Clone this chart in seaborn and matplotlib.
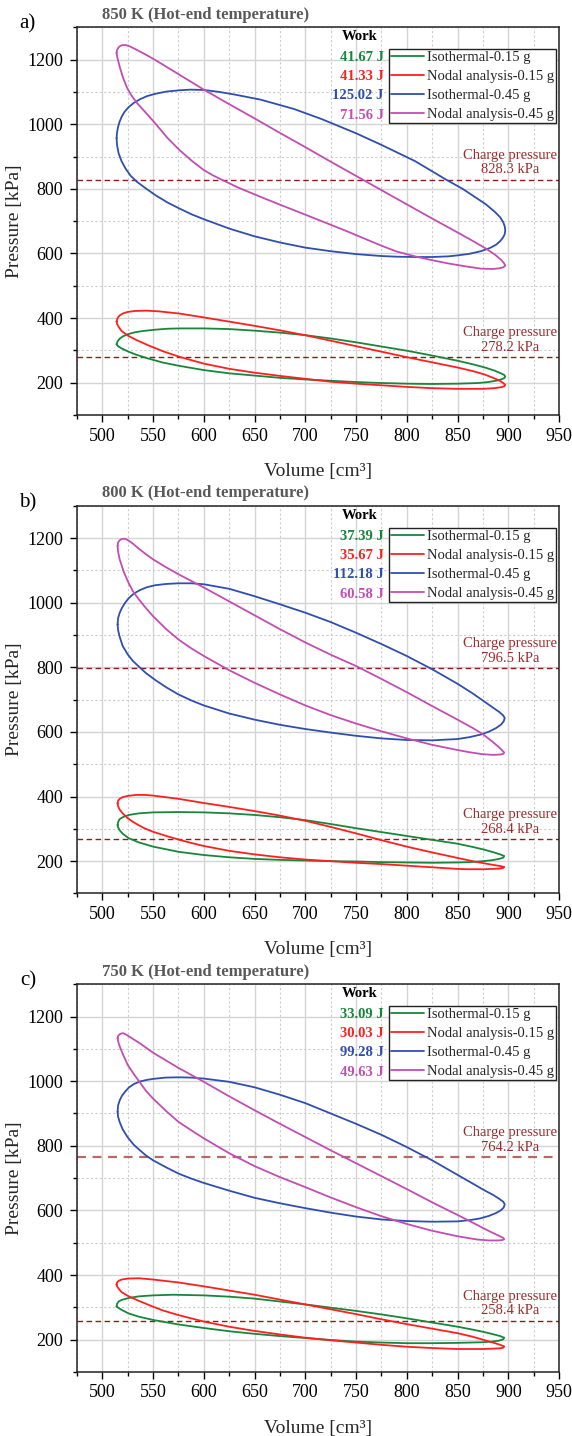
import matplotlib
matplotlib.use("Agg")
import matplotlib.pyplot as plt
from matplotlib.ticker import MultipleLocator
import pandas as pd
import seaborn as sns

# ---------------------------------------------------------------- data
SERIES = ["Isothermal-0.15 g", "Nodal analysis-0.15 g",
          "Isothermal-0.45 g", "Nodal analysis-0.45 g"]
COLORS = ["#17873a", "#ff1f1f", "#2f4fae", "#c24db3"]

PANEL_TAGS = ["a)", "b)", "c)"]
HOT_END_K = [850, 800, 750]
WORK_J = [[41.67, 41.33, 125.02, 71.56],
          [37.39, 35.67, 112.18, 60.58],
          [33.09, 30.03, 99.28, 49.63]]
CHARGE_KPA = [[828.3, 278.2], [796.5, 268.4], [764.2, 258.4]]

# P-V loops: (volume cm3, pressure kPa), traced once around each cycle
A_ISO_015 = [(514, 319), (515, 328), (517, 336), (520, 343), (525, 350), (532, 356),
             (540, 360), (552, 364), (564, 367), (576, 368), (600, 368), (625, 366),
             (650, 361), (675, 355), (700, 347), (725, 337), (750, 325), (775, 312),
             (800, 299), (825, 284), (850, 268), (865, 257), (877, 247), (886, 238),
             (892, 230), (896, 224), (897, 219), (896, 214), (893, 210), (888, 206),
             (880, 202), (870, 199), (850, 197), (825, 196), (800, 197), (775, 199),
             (750, 202), (725, 206), (700, 210), (675, 215), (650, 222), (625, 229),
             (600, 239), (576, 252), (560, 262), (545, 275), (533, 287), (525, 297),
             (519, 306), (515.5, 313), (514, 319)]
A_NOD_015 = [(514, 389), (515, 400), (517, 408), (520, 414), (525, 419), (532, 422),
             (543, 423), (555, 421), (576, 414), (600, 402), (625, 389), (650, 376),
             (675, 362), (700, 347), (725, 330), (750, 313), (775, 296), (800, 279),
             (825, 263), (850, 247), (865, 236), (877, 225), (886, 214), (892, 205),
             (895, 199), (897, 193), (896, 189), (893, 186), (886, 183), (875, 181),
             (850, 181), (825, 183), (800, 187), (775, 192), (750, 197), (725, 203),
             (700, 212), (675, 221), (650, 231), (625, 243), (600, 259), (576, 280),
             (560, 297), (545, 316), (533, 333), (525, 346), (519, 360), (516, 373),
             (514.5, 382), (514, 389)]
A_ISO_045 = [(514, 957), (514.5, 975), (515.5, 992), (517, 1008), (519, 1023), (522, 1039),
             (526, 1053), (531, 1066), (537, 1077), (544, 1087), (552, 1094), (563, 1101),
             (576, 1105), (587, 1107), (600, 1106), (615, 1100), (630, 1092), (656, 1076),
             (689, 1047), (716, 1016), (750, 972), (775, 936), (808, 886), (839, 828),
             (855, 800), (867, 775), (878, 752), (887, 728), (892, 712), (895, 697),
             (896.5, 684), (897, 672), (896.5, 660), (895, 650), (892, 638), (888, 627),
             (882, 617), (873, 607), (862, 599), (850, 594), (841, 591), (825, 589),
             (808, 589), (790, 590), (775, 592), (750, 598), (725, 607), (700, 618),
             (675, 634), (650, 653), (625, 677), (600, 706), (588, 721), (576, 739),
             (564, 758), (552, 781), (543, 801), (534, 822), (528, 840), (523, 862),
             (519, 885), (516, 910), (514.5, 935), (514, 957)]
A_NOD_045 = [(514, 1221), (514.5, 1230), (516, 1238), (518, 1243), (520, 1245), (523, 1245),
             (527, 1241), (534, 1230), (543, 1215), (552, 1199), (564, 1176), (576, 1153),
             (588, 1130), (600, 1107), (625, 1062), (650, 1018), (675, 973), (700, 929),
             (725, 884), (750, 840), (775, 796), (800, 752), (825, 708), (850, 665),
             (866, 637), (878, 615), (887, 596), (893, 580), (896, 569), (897, 562),
             (895, 557), (891, 554), (885, 552), (873, 553), (858, 560), (841, 569),
             (825, 579), (808, 591), (790, 606), (775, 624), (740, 670), (700, 720),
             (675, 751), (656, 775), (633, 805), (610, 840), (600, 858), (588, 887),
             (576, 920), (564, 958), (552, 1003), (543, 1035), (534, 1066), (528, 1092),
             (524, 1115), (520.5, 1143), (518, 1168), (516, 1191), (514.7, 1208),
             (514, 1221)]

B_ISO_015 = [(515, 312), (515.5, 321), (517, 330), (520, 336), (526, 343), (536, 348),
             (550, 351), (575, 352), (600, 351), (625, 348), (650, 343), (675, 336),
             (700, 327), (725, 315), (750, 302), (775, 290), (800, 278), (825, 266),
             (850, 254), (865, 244), (877, 235), (886, 227), (892, 221), (896, 216),
             (895, 211), (891, 207), (884, 203), (875, 200), (862, 197), (850, 196),
             (825, 195), (800, 196), (775, 197), (750, 199), (725, 200), (700, 202),
             (675, 204), (650, 207), (625, 212), (600, 219), (575, 229), (550, 245),
             (536, 258), (526, 271), (520, 285), (517, 296), (515.5, 305), (515, 312)]
B_NOD_015 = [(515, 379), (515.5, 387), (517, 393), (520, 398), (525, 402), (533, 405),
             (542, 405), (550, 403), (575, 393), (600, 380), (625, 368), (650, 355),
             (675, 341), (700, 325), (725, 306), (750, 286), (775, 265), (800, 245),
             (825, 227), (850, 210), (865, 200), (877, 193), (886, 188), (892, 185),
             (896, 182), (895, 179), (891, 177), (884, 176), (875, 175), (860, 175),
             (850, 176), (825, 181), (800, 186), (775, 191), (750, 195), (725, 200),
             (700, 205), (675, 212), (650, 221), (625, 232), (600, 247), (588, 256),
             (575, 267), (563, 278), (550, 291), (542, 301), (536, 311), (530, 322),
             (525, 333), (520, 348), (517, 360), (515.5, 370), (515, 379)]
B_ISO_045 = [(515, 933), (515.5, 952), (517, 968), (519, 982), (522, 998), (526, 1014),
             (531, 1028), (537, 1039), (544, 1048), (552, 1054), (563, 1058), (575, 1060),
             (588, 1060), (600, 1057), (625, 1043), (650, 1020), (675, 995), (700, 969),
             (725, 940), (750, 907), (775, 872), (800, 835), (825, 794), (850, 749),
             (865, 719), (876, 695), (885, 675), (891, 662), (895, 651), (896.5, 643),
             (895.5, 633), (893, 623), (888, 612), (881, 601), (873, 592), (862, 584),
             (850, 578), (825, 574), (800, 575), (775, 580), (750, 588), (725, 598),
             (700, 609), (675, 622), (650, 638), (625, 657), (600, 682), (588, 697),
             (575, 716), (563, 738), (552, 761), (543, 782), (536, 802), (530, 820),
             (525, 840), (520, 866), (517, 895), (515.5, 915), (515, 933)]
B_NOD_045 = [(515, 1176), (515.5, 1186), (517, 1193), (519, 1197), (521, 1198), (523, 1197),
             (526, 1192), (530, 1183), (536, 1167), (543, 1150), (550, 1134), (562, 1111),
             (575, 1088), (600, 1047), (625, 1004), (650, 961), (675, 918), (700, 877),
             (725, 839), (750, 804), (775, 764), (800, 723), (825, 680), (850, 638),
             (865, 612), (875, 593), (884, 571), (890, 555), (894, 543), (896, 536),
             (895, 532), (892, 530), (885, 529), (875, 531), (862, 537), (850, 544),
             (825, 560), (800, 580), (775, 602), (750, 626), (725, 652), (700, 682),
             (675, 716), (650, 752), (625, 791), (600, 835), (588, 858), (575, 886),
             (563, 918), (550, 958), (543, 983), (536, 1010), (530, 1036), (526, 1060),
             (521, 1096), (517, 1135), (515.5, 1158), (515, 1176)]

C_ISO_015 = [(514, 303), (514.5, 311), (516, 318), (519, 323), (526, 329), (536, 334),
             (550, 337), (570, 339), (600, 337), (625, 333), (650, 327), (675, 318),
             (700, 309), (725, 299), (750, 289), (775, 278), (800, 266), (825, 253),
             (850, 240), (865, 231), (877, 223), (886, 216), (892, 211), (896, 206),
             (895, 201), (891, 197), (884, 194), (875, 192), (850, 190), (825, 189),
             (800, 189), (775, 191), (750, 194), (725, 199), (700, 205), (675, 211),
             (650, 218), (625, 226), (600, 236), (575, 247), (550, 261), (536, 271),
             (526, 281), (519, 292), (515.5, 299), (514, 303)]
C_NOD_015 = [(514, 370), (514.5, 377), (516, 382), (519, 386), (525, 389), (536, 390),
             (550, 386), (575, 377), (600, 365), (625, 352), (650, 339), (675, 324),
             (700, 309), (725, 294), (750, 279), (775, 263), (800, 248), (825, 234),
             (850, 220), (865, 209), (877, 198), (886, 190), (892, 184), (896, 179),
             (895, 175), (891, 173), (884, 172), (875, 171), (850, 171), (825, 174),
             (800, 178), (775, 184), (750, 191), (725, 198), (700, 206), (675, 216),
             (650, 227), (625, 240), (600, 256), (575, 276), (560, 290), (550, 302),
             (536, 320), (526, 334), (519, 347), (516, 358), (514.5, 365), (514, 370)]
C_ISO_045 = [(515, 905), (515.5, 925), (517, 940), (519, 953), (522, 966), (526, 980),
             (531, 991), (537, 999), (544, 1004), (550, 1007), (562, 1011), (575, 1012),
             (588, 1011), (600, 1008), (625, 998), (650, 981), (675, 958), (700, 932),
             (725, 900), (750, 868), (775, 834), (800, 796), (825, 755), (850, 710),
             (865, 683), (876, 663), (885, 648), (891, 636), (895, 627), (896.5, 619),
             (895.5, 609), (893, 601), (888, 592), (881, 583), (872, 575), (862, 570),
             (850, 566), (825, 565), (800, 567), (775, 572), (750, 581), (725, 593),
             (700, 607), (675, 622), (650, 639), (625, 661), (600, 685), (588, 698),
             (575, 714), (563, 733), (550, 755), (543, 770), (537, 786), (531, 803),
             (525, 826), (520, 851), (517, 874), (515.5, 890), (515, 905)]
C_NOD_045 = [(515, 1133), (515.5, 1140), (517, 1145), (519, 1148), (521, 1148), (524, 1143),
             (530, 1131), (537, 1117), (550, 1088), (575, 1041), (600, 998), (625, 953),
             (650, 910), (675, 868), (700, 827), (725, 786), (750, 746), (775, 706),
             (800, 666), (825, 625), (850, 586), (865, 562), (876, 544), (885, 530),
             (891, 521), (895, 515), (896, 511), (894, 508), (889, 507), (881, 507),
             (869, 510), (850, 520), (825, 537), (800, 558), (775, 582), (750, 610),
             (725, 640), (700, 672), (675, 703), (650, 737), (625, 777), (600, 823),
             (588, 847), (575, 874), (563, 907), (550, 946), (543, 970), (537, 996),
             (531, 1022), (525, 1050), (521, 1078), (518, 1100), (516, 1118), (515, 1133)]

LOOPS = [[A_ISO_015, A_NOD_015, A_ISO_045, A_NOD_045],
         [B_ISO_015, B_NOD_015, B_ISO_045, B_NOD_045],
         [C_ISO_015, C_NOD_015, C_ISO_045, C_NOD_045]]

# ---------------------------------------------------------------- style
sns.set_style("white")
plt.rcParams["font.family"] = ["Liberation Serif", "DejaVu Serif"]
plt.rcParams["axes.linewidth"] = 1.1

CHARGE_COLOR = "#8e1c1c"
CHARGE_TEXT = "#9b2d2d"
TITLE_GRAY = "#595959"

fig = plt.figure(figsize=(5.72, 14.36), dpi=100)
AX_LEFT, AX_W, AX_H = 0.1346, 0.8427, 0.2700
AX_BOTTOMS = [0.7110, 0.3778, 0.0446]

for i in range(3):
    ax = fig.add_axes([AX_LEFT, AX_BOTTOMS[i], AX_W, AX_H])

    frames = []
    for name, loop in zip(SERIES, LOOPS[i]):
        df = pd.DataFrame(loop, columns=["Volume", "Pressure"])
        df["series"] = name
        frames.append(df)
    data = pd.concat(frames, ignore_index=True)

    sns.lineplot(data=data, x="Volume", y="Pressure", hue="series",
                 hue_order=SERIES, palette=COLORS, sort=False, estimator=None,
                 linewidth=1.3, ax=ax, zorder=3)
    for ln in ax.get_lines():
        ln.set_solid_joinstyle("round")

    ax.set_xlim(475, 950)
    ax.set_ylim(100, 1300)
    ax.xaxis.set_major_locator(MultipleLocator(50))
    ax.xaxis.set_minor_locator(MultipleLocator(25))
    ax.yaxis.set_major_locator(MultipleLocator(200))
    ax.yaxis.set_minor_locator(MultipleLocator(100))
    ax.set_axisbelow(True)
    ax.grid(which="major", color="#d4d4d4", linewidth=1.0, linestyle="-")
    ax.grid(which="minor", color="#cdcdcd", linewidth=0.8, linestyle=(0, (2, 2)))
    ax.tick_params(which="both", direction="out", top=False, right=False,
                   bottom=True, left=True, colors="black")
    ax.tick_params(which="major", length=5, width=1.0, labelsize=13)
    ax.tick_params(which="minor", length=3, width=1.0)
    ax.tick_params(axis="x", which="major", pad=4)
    ax.tick_params(axis="y", which="major", pad=5)
    for sp in ax.spines.values():
        sp.set_color("#222222")

    ax.set_xlabel("Volume [cm\u00b3]", fontsize=14, labelpad=13)
    ax.set_ylabel("Pressure [kPa]", fontsize=14, labelpad=3)

    # charge pressure reference lines
    for k, c in enumerate(CHARGE_KPA[i]):
        light = (i == 2 and k == 0)
        ax.axhline(c, color="#b56a6a" if light else CHARGE_COLOR,
                   linewidth=1.6 if light else 1.0,
                   linestyle=(0, (4, 3)) if light else (0, (4, 2.5)), zorder=2)
        ax.annotate(f"Charge pressure\n{c:.1f} kPa", xy=(0.899, c),
                    xycoords=("axes fraction", "data"), xytext=(0, 2.5),
                    textcoords="offset points", ha="center", va="bottom",
                    multialignment="center", fontsize=10.5, color=CHARGE_TEXT,
                    linespacing=1.15, zorder=4)

    # legend with cycle work
    handles, labels = ax.get_legend_handles_labels()
    ax.legend(handles, labels, loc="upper right", bbox_to_anchor=(0.994, 0.943),
              fontsize=10.5, frameon=True, fancybox=False, edgecolor="#222222",
              framealpha=1, handlelength=2.3, handletextpad=0.2, borderpad=0.12,
              labelspacing=0.40, borderaxespad=0)
    ax.get_legend().get_frame().set_linewidth(1.0)

    ax.text(0.586, 0.975, "Work", transform=ax.transAxes, ha="center",
            va="center", fontsize=10.5, fontweight="bold", color="black")
    row_y = [0.9216, 0.8727, 0.8229, 0.7722]
    for w, col, yy in zip(WORK_J[i], COLORS, row_y):
        ax.text(0.636, yy, f"{w:.2f} J", transform=ax.transAxes, ha="right",
                va="center", fontsize=10.5, fontweight="bold", color=col)

    ax.text(0.052, 1.032, f"{HOT_END_K[i]} K (Hot-end temperature)",
            transform=ax.transAxes, ha="left", va="center", fontsize=12,
            fontweight="bold", color=TITLE_GRAY)
    ax.text(-0.102, 1.008, PANEL_TAGS[i], transform=ax.transAxes, ha="center",
            va="center", fontsize=15, color="black")

fig.savefig("out.png", dpi=100)
